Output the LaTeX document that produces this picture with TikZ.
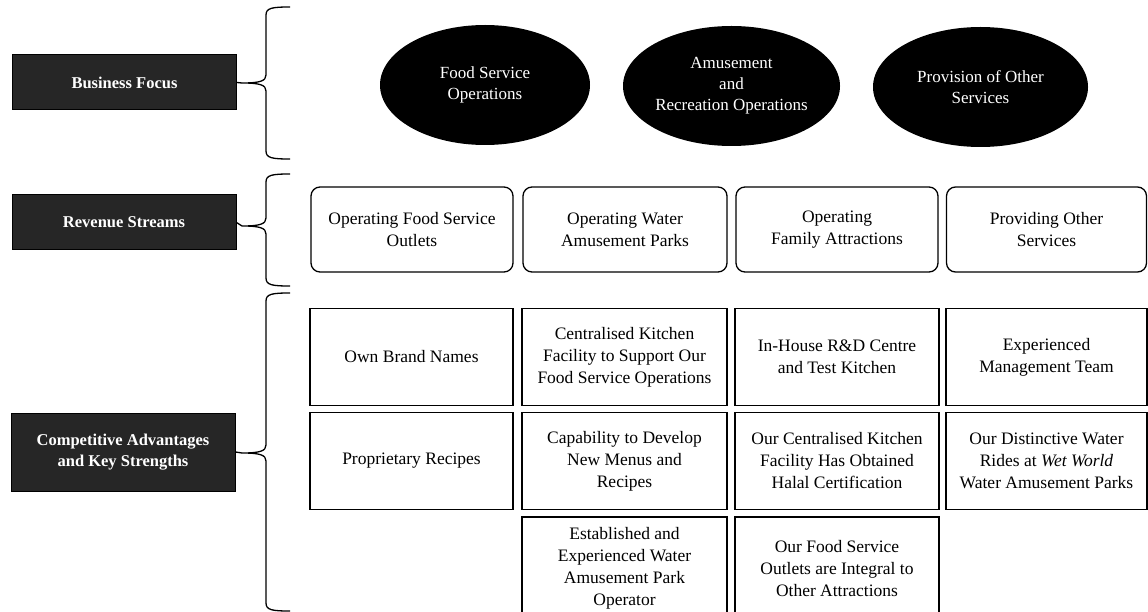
\documentclass[tikz,border=0pt]{standalone}
\usepackage{fontspec}
\setmainfont{Liberation Serif}
\usetikzlibrary{shapes.geometric,calc}
\begin{document}
\begin{tikzpicture}[x=1pt,y=-1pt,
 lab/.style={draw=black, line width=1pt, fill=black!85, text=white, font=\fontsize{16.5}{21}\selectfont\bfseries, minimum width=224pt, align=center, inner sep=0pt},
 ell/.style={ellipse, fill=black, text=white, font=\fontsize{17}{21}\selectfont, align=center, inner sep=0pt, minimum height=120pt},
 rev/.style={draw, line width=1.3pt, rounded corners=9pt, minimum height=85pt, align=center, font=\fontsize{17.5}{22}\selectfont, inner sep=0pt},
 cell/.style={draw, line width=1.2pt, align=center, font=\fontsize{17.5}{22}\selectfont, inner sep=0pt},
 brace/.style={line width=1.3pt}
]
\path[use as bounding box] (0,0) rectangle (1148,612);
\clip (0,0) rectangle (1148,612);

% left labels
\node[lab, minimum height=55pt] (L1) at (124.5,82.5) {Business Focus};
\node[lab, minimum height=55pt] (L2) at (124,222.5) {Revenue Streams};
\node[lab, minimum height=78pt] (L3) at (123,452) {Competitive Advantages\\and Key Strengths};

% brace tips and ends
\coordinate (T1) at (242,83);  \coordinate (A1) at (290,7);   \coordinate (Z1) at (290,159);
\coordinate (T2) at (242,226); \coordinate (A2) at (290,174); \coordinate (Z2) at (290,286);
\coordinate (T3) at (242,453); \coordinate (A3) at (290,293); \coordinate (Z3) at (290,611);

\foreach \i in {1,2,3}{
  \draw[brace] (A\i) .. controls ($(A\i)+(-18,0)$) and ($(A\i)+(-24,1)$) .. ($(A\i)+(-24,8)$)
    -- ($(T\i)+(24,-8)$) .. controls ($(T\i)+(24,-2)$) and ($(T\i)+(18,0)$) .. (T\i)
    .. controls ($(T\i)+(18,0)$) and ($(T\i)+(24,2)$) .. ($(T\i)+(24,8)$)
    -- ($(Z\i)+(-24,-8)$) .. controls ($(Z\i)+(-24,-1)$) and ($(Z\i)+(-18,0)$) .. (Z\i);
}
\draw[brace] (L1.east) -- (T1);
\draw[brace] (L2.east) -- (T2);
\draw[brace] (L3.east) -- (T3);

% business focus ellipses
\node[ell, minimum width=210pt] (E1) at (485,85) {Food Service\\Operations};
\node[ell, minimum width=217pt] (E2) at (731.5,86) {Amusement\\and\\Recreation Operations};
\node[ell, minimum width=215pt] (E3) at (980.5,87) {Provision of Other\\Services};

% revenue streams
\node[rev, minimum width=202pt] (R1) at (412,229.5) {Operating Food Service\\Outlets};
\node[rev, minimum width=204pt] (R2) at (625,229.5) {Operating Water\\Amusement Parks};
\node[rev, minimum width=202pt] (R3) at (837,229.5) {Operating\\Family Attractions};
\node[rev, minimum width=200pt] (R4) at (1046.5,229.5) {Providing Other\\Services};

% competitive advantages grid
\node[cell, minimum width=203pt, minimum height=97pt] (C11) at (411.5,357) {Own Brand Names};
\node[cell, minimum width=205pt, minimum height=97pt] (C12) at (624.5,357) {Centralised Kitchen\\Facility to Support Our\\Food Service Operations};
\node[cell, minimum width=204pt, minimum height=97pt] (C13) at (837,357) {In-House R\&D Centre\\and Test Kitchen};
\node[cell, minimum width=201pt, minimum height=97pt] (C14) at (1046.5,357) {Experienced\\Management Team};

\node[cell, minimum width=203pt, minimum height=97pt] (C21) at (411.5,461) {Proprietary Recipes};
\node[cell, minimum width=205pt, minimum height=97pt] (C22) at (624.5,461) {Capability to Develop\\New Menus and\\Recipes};
\node[cell, minimum width=204pt, minimum height=97pt] (C23) at (837,461) {Our Centralised Kitchen\\Facility Has Obtained\\Halal Certification};
\node[cell, minimum width=201pt, minimum height=97pt] (C24) at (1046.5,461) {Our Distinctive Water\\Rides at \textit{Wet World}\\Water Amusement Parks};

\node[cell, minimum width=205pt, minimum height=103pt] (C32) at (624.5,568.5) {Established and\\Experienced Water\\Amusement Park\\Operator};
\node[cell, minimum width=204pt, minimum height=103pt] (C33) at (837,568.5) {Our Food Service\\Outlets are Integral to\\Other Attractions};
\end{tikzpicture}
\end{document}
